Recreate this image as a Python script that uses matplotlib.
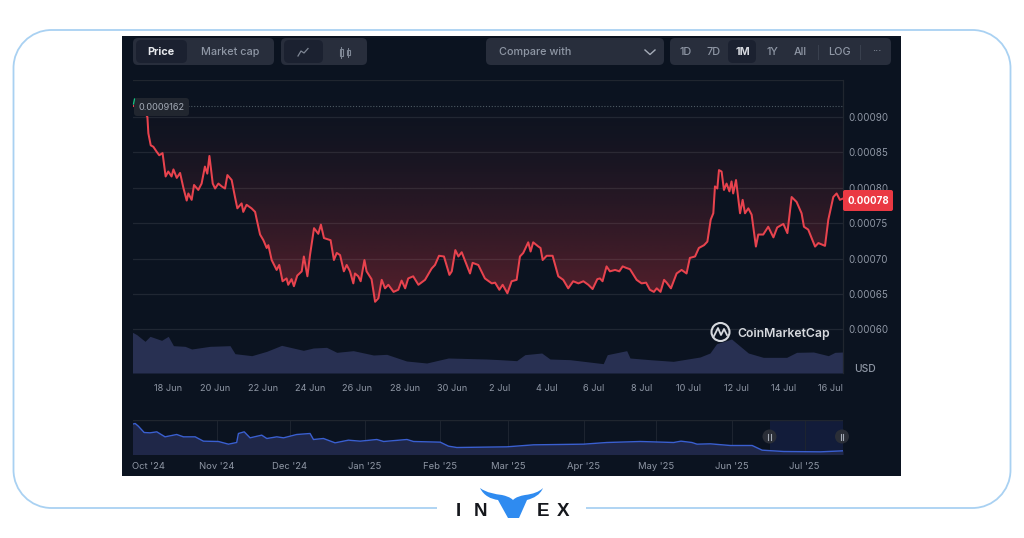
import numpy as np
import matplotlib
matplotlib.use("Agg")
import matplotlib.pyplot as plt
from matplotlib.patches import FancyBboxPatch, PathPatch, Rectangle, Circle
from matplotlib.path import Path
from matplotlib.transforms import ScaledTranslation

plt.rcParams['font.family'] = ['Inter', 'DejaVu Sans']

# ---------- data ----------
# days since 16 Jun 2025 12:00, price in 1e-5 USD
price_days = [0,.18,.46,.63,.67,.77,.88,1.02,1.13,1.27,1.40,1.51,1.65,1.73,1.87,2.01,2.15,2.29,2.36,2.50,2.60,2.78,2.92,3.06,3.16,3.25,3.39,3.49,3.63,3.77,3.91,4.01,4.19,4.33,4.43,4.61,4.68,4.82,5.03,5.18,
 5.25,5.39,5.53,5.67,5.74,5.88,6.09,6.20,6.34,6.51,6.58,6.72,6.82,6.96,7.15,7.24,7.39,7.50,7.67,7.85,7.96,8.09,8.37,8.51,8.63,8.77,8.93,9.05,9.19,9.33,9.40,9.54,9.64,9.80,9.89,10.10,10.25,10.39,10.53,10.67,10.81,11.03,11.23,11.37,11.52,11.65,11.86,12.08,12.36,12.64,12.78,12.95,13.16,13.39,13.49,13.64,13.77,13.91,14.26,14.37,14.61,14.89,15.18,15.32,15.50,15.64,15.84,16.02,16.23,16.37,
 16.51,16.72,16.82,16.93,17.15,17.24,17.33,17.50,17.75,17.99,18.20,18.41,18.62,18.84,19.05,19.26,19.44,19.64,19.75,19.86,20.03,20.17,20.39,20.57,20.71,20.85,21.02,21.30,21.51,21.70,21.86,22.03,22.15,22.31,22.46,22.57,22.75,22.99,23.20,23.41,23.55,23.77,23.93,24.15,24.29,24.40,24.43,24.54,24.61,24.71,24.78,24.89,24.99,25.10,25.22,25.31,25.38,25.50,25.60,25.67,25.78,25.88,26.02,26.16,26.34,26.44,26.65,26.86,27.08,27.24,27.50,27.67,27.85,28.06,28.27,28.37,28.55,28.84,28.98,29.26,29.40,29.61,29.75,29.89,30.03]
price_e5 = [91.62,91.4,91.0,90.0,87.7,86.0,85.8,85.1,84.6,84.9,81.6,82.3,81.6,82.6,81.4,82.1,80.0,78.2,79.2,78.3,80.4,79.7,80.6,83.0,82.0,84.5,80.6,79.9,80.6,80.2,79.9,81.8,81.1,78.7,77.1,77.8,76.6,77.6,77.1,76.6,
 75.5,73.4,72.6,71.5,71.9,69.8,68.4,69.1,66.8,67.2,66.3,67.1,66.1,67.6,68.2,70.3,67.5,70.5,74.3,73.5,74.8,72.9,72.6,69.8,70.8,70.5,68.2,69.1,68.2,66.5,67.9,67.5,66.8,69.8,68.2,67.1,63.9,64.4,67.0,65.8,66.3,65.3,65.6,66.9,65.8,67.2,67.5,66.3,67.0,68.6,69.1,70.4,70.3,67.7,68.2,71.2,70.3,70.9,67.9,69.4,69.1,67.2,66.5,66.6,65.6,66.3,65.1,66.8,67.0,70.3,
 70.8,72.3,71.0,72.3,71.7,71.5,69.8,70.4,70.4,67.5,67.0,65.8,66.8,66.5,66.8,66.3,65.7,67.1,67.2,66.8,68.9,68.2,68.4,68.2,68.9,68.7,68.5,67.0,66.5,66.6,65.6,65.3,65.8,65.3,67.0,66.6,65.8,67.9,68.4,67.9,70.1,70.3,71.5,71.9,72.4,74.8,75.5,76.4,80.2,79.9,82.5,82.3,79.7,80.6,79.5,80.9,79.2,81.1,78.3,76.4,78.3,76.4,77.1,76.2,71.7,73.4,73.4,74.5,73.0,74.4,74.9,73.6,78.7,78.0,76.4,74.5,74.1,71.7,72.2,71.8,75.5,78.7,79.2,78.3,78.5]
volume_days = [0,.18,.53,.74,1.23,1.51,1.73,2.22,2.50,3.27,4.12,4.33,5.04,5.67,6.30,7.22,7.64,8.20,8.63,9.33,10.18,10.74,11.58,12.43,13.34,14.96,15.53,16.23,16.58,17.29,17.64,18.48,19.89,20.06,20.88,21.02,21.86,22.85,23.98,24.40,24.68,25.31,26.02,26.65,27.64,28.06,28.77,29.40,29.68,30.03]
volume_rel = [122,115,95,110,98,110,82,80,72,80,82,58,52,65,83,68,75,77,62,67,54,56,36,30,45,42,40,37,55,60,42,40,28,55,67,45,40,35,48,60,88,102,60,47,47,62,63,52,62,63]
nav_days = [-3.7,-2.6,-1.3,1.1,3.5,6.3,9.7,14.5,17.3,22.1,25.5,31.7,35.8,39.2,39.9,42.3,44.7,49.5,51.6,55.7,58.5,63.9,69.4,70.8,74.9,79.7,85.2,90.0,96.9,99.7,109.3,112.0,123.0,126.4,129.8,150.4,161.4,182.0,191.6,205.4,219.1,222.1,226.6,228.7,234.2,242.4,251.4,255.5,264.4,279.5,288.8]
nav_rel = [91,93,85,66,65,68,53,60,53,53,40,39,31,36,63,68,50,58,48,53,50,60,63,45,48,35,43,40,45,39,45,39,37,25,21,23,29,31,36,39,36,40,36,31,32,27,27,13,9,8,11]
price_ticks = [90, 85, 80, 75, 70, 65, 60]
price_tick_labels = ['0.00090','0.00085','0.00080','0.00075','0.00070','0.00065','0.00060']
date_ticks = [1.5+2*i for i in range(15)]
date_labels = ['18 Jun','20 Jun','22 Jun','24 Jun','26 Jun','28 Jun','30 Jun','2 Jul','4 Jul','6 Jul','8 Jul','10 Jul','12 Jul','14 Jul','16 Jul']
month_ticks = [0,31,61,92,123,151,182,212,243,273]
month_labels = ["Oct '24","Nov '24","Dec '24","Jan '25","Feb '25","Mar '25","Apr '25","May '25","Jun '25","Jul '25"]
high_price = 91.62
last_price_label = '0.00078'
buttons = ['Price','Market cap','Compare with','1D','7D','1M','1Y','All','LOG']

# ---------- layout helpers ----------
W, H = 1024, 538
fig = plt.figure(figsize=(W/100, H/100), dpi=100, facecolor='white')
def axpx(x0, y0, x1, y1, **kw):
    return fig.add_axes([x0/W, 1-y1/H, (x1-x0)/W, (y1-y0)/H], **kw)

PANEL='#0b1320'; GRID='#20262f'; TXT='#8f97a5'; RED='#ea3943'; BTN='#282e3c'; ACT='#1b2130'

bg = axpx(0,0,W,H); bg.set_xlim(0,W); bg.set_ylim(H,0); bg.axis('off'); bg.set_zorder(0)
FRAME='#a9d1f2'
r=38; l,t,rt,b=13.5,30,1010.5,508
k=0.5523*r
verts=[(437,b),(l+r,b),(l+r-k,b),(l,b-r+k),(l,b-r),(l,t+r),(l,t+r-k),(l+r-k,t),(l+r,t),(rt-r,t),(rt-r+k,t),(rt,t+r-k),(rt,t+r),(rt,b-r),(rt,b-r+k),(rt-r+k,b),(rt-r,b),(586,b)]
codes=[Path.MOVETO,Path.LINETO,Path.CURVE4,Path.CURVE4,Path.CURVE4,Path.LINETO,Path.CURVE4,Path.CURVE4,Path.CURVE4,Path.LINETO,Path.CURVE4,Path.CURVE4,Path.CURVE4,Path.LINETO,Path.CURVE4,Path.CURVE4,Path.CURVE4,Path.LINETO]
bg.add_patch(PathPatch(Path(verts,codes),fc='none',ec=FRAME,lw=1.3))
bg.add_patch(Rectangle((122,36),779,440,fc=PANEL,ec='none'))

def btn(x0,y0,x1,y1,fc,rad=5):
    bg.add_patch(FancyBboxPatch((x0,y0),x1-x0,y1-y0,boxstyle=f'round,pad=0,rounding_size={rad}',fc=fc,ec='none'))
btn(133,38,274,65,BTN); btn(136,40,187,63,ACT)
btn(281,38,367,65,BTN); btn(284,40,323,63,ACT)
btn(486,38,664,65,BTN)
btn(670,38,891,65,BTN); btn(728,40,756,63,ACT)
bg.text(161,52,buttons[0],color='#e6e8ec',fontsize=7.8,fontweight='bold',ha='center',va='center')
bg.text(230,52,buttons[1],color=TXT,fontsize=7.8,fontweight='medium',ha='center',va='center')
bg.text(499,52,buttons[2],color=TXT,fontsize=7.8,fontweight='medium',ha='left',va='center')
for x,s,c in [(686,buttons[3],TXT),(714,buttons[4],TXT),(743,buttons[5],'#d5d8de'),(772,buttons[6],TXT),(800,buttons[7],TXT),(839,buttons[8],TXT)]:
    bg.text(x,52,s,color=c,fontsize=7.8,fontweight='bold' if s=='1M' else 'medium',ha='center',va='center')
bg.plot([645,650,655],[50,54.5,50],color='#a5acb8',lw=1.0)
bg.plot([298,301,304,308],[56,51,53,48.5],color='#7f8795',lw=0.9)
for x,y0,y1 in [(341,49,56),(348,50,55)]:
    bg.add_patch(Rectangle((x-1.5,y0),3,y1-y0,fc='none',ec='#7f8795',lw=0.8))
    bg.plot([x,x],[y0-2,y1+2],color='#7f8795',lw=0.7)
for x in (818,860):
    bg.plot([x,x],[45,59],color='#39404e',lw=0.8)
bg.text(877,51,'···',color=TXT,fontsize=7.5,ha='center',va='center')

# ---------- main chart ----------
days=np.array(price_days); price=np.array(price_e5)*1e-5
ax=axpx(132.5,80,843,373); ax.set_zorder(2); ax.patch.set_alpha(0)
top=95.23e-5; bot=53.84e-5
ax.set_xlim(0,30.02); ax.set_ylim(bot,top)
grad=np.zeros((256,2,4)); grad[...,:3]=matplotlib.colors.to_rgb(RED)
grad[...,3]=0.33*np.linspace(0,1,256)[:,None]**1.6
im=ax.imshow(grad,extent=[0,30.02,64.5e-5,top],origin='upper',aspect='auto',zorder=1,interpolation='bilinear')
poly=ax.fill_between(days,price,top,fc='none',ec='none')
im.set_clip_path(poly.get_paths()[0],transform=ax.transData)
ax.set_xlim(0,30.02); ax.set_ylim(bot,top)
for v in price_ticks:
    ax.axhline(v*1e-5,color=(1,1,1,0.085),lw=0.9,zorder=1.5)
ax.axhline(top,color=GRID,lw=1.6,zorder=1.5)
ax.plot(days,price,color='#e8434e',lw=1.45,zorder=3,solid_joinstyle='round')
ax.axhline(high_price*1e-5,color='#4e5a63',lw=0.8,ls=(0,(1,1.6)),zorder=2)
ax.set_xticks(date_ticks); ax.set_xticklabels(date_labels)
ax.yaxis.tick_right()
ax.set_yticks([v*1e-5 for v in price_ticks]); ax.set_yticklabels(price_tick_labels)
ax.tick_params(axis='y',length=0,pad=3.7,labelsize=7,labelcolor=TXT)
ax.tick_params(axis='x',length=0,pad=8.2,labelsize=6.6,labelcolor=TXT)
for s in ax.spines.values(): s.set_visible(False)
ax.spines['right'].set_visible(True); ax.spines['right'].set_color(GRID); ax.spines['right'].set_linewidth(0.9)

# volume
vx=axpx(132.5,80,843,373); vx.set_zorder(1); vx.patch.set_alpha(0)
vx.fill_between(volume_days,volume_rel,0,color='#283052',lw=0)
vx.set_xlim(0,30.02); vx.set_ylim(0,879); vx.axis('off')

# ---------- overlays ----------
fg=axpx(0,0,W,H); fg.set_xlim(0,W); fg.set_ylim(H,0); fg.axis('off'); fg.set_zorder(5); fg.patch.set_alpha(0)
fg.add_patch(FancyBboxPatch((134,98),55,18,boxstyle='round,pad=0,rounding_size=3',fc='#21262f',ec='none'))
fg.text(162,107,'0.0009162',color='#a4abb6',fontsize=6.6,ha='center',va='center')
fg.plot([133.5,134.5],[104,99],color='#16c784',lw=0.9)
fg.add_patch(FancyBboxPatch((843,190),50,21,boxstyle='round,pad=0,rounding_size=2',fc=RED,ec='none'))
fg.text(868,200.5,last_price_label,color='white',fontsize=7,fontweight='bold',ha='center',va='center')
fg.text(865,369.5,'USD',color=TXT,fontsize=7.4,fontweight='medium',ha='center',va='center')
fg.add_patch(Circle((720.5,332),9,fc='none',ec='#d6d9de',lw=1.5))
fg.plot([714,718,721,724,727],[336,328,335,329,335],color='#d6d9de',lw=1.3)
fg.text(737,333.5,'CoinMarketCap',color='#d6d9de',fontsize=8.8,fontweight='semibold',ha='left',va='center')

# ---------- navigator ----------
nx=axpx(132.5,419.5,843,454.5); nx.set_zorder(2); nx.patch.set_alpha(0)
d0,d1=-3.7,288.8
nx.set_xlim(d0,d1); nx.set_ylim(0,105)
nx.axvspan(258.6,d1,color='#121c3a',lw=0,zorder=0)
for m in month_ticks[1:]:
    nx.axvline(m,color='#1d2430',lw=0.8,zorder=1)
nx.axhline(105,color=GRID,lw=1.0,zorder=1)
nx.fill_between(nav_days,nav_rel,0,color='#1f2748',lw=0,zorder=2)
nx.plot(nav_days,nav_rel,color='#3a5fd0',lw=1.0,zorder=3)
nx.set_xticks(month_ticks); nx.set_xticklabels(month_labels)
nx.set_yticks([])
nx.tick_params(axis='x',length=0,pad=5.4,labelsize=6.8,labelcolor=TXT)
for s in nx.spines.values(): s.set_visible(False)
first=nx.get_xticklabels()[0]
first.set_transform(first.get_transform()+ScaledTranslation(7.5/100,0,fig.dpi_scale_trans))
for x in (769.5,842):
    fg.add_patch(Circle((x,436.5),7,fc='#2a2e37',ec='none'))
    for dx in (-1.2,1.2):
        fg.plot([x+dx,x+dx],[433.5,439.5],color='#a4abb6',lw=0.8)

# ---------- logo ----------
lb=dict(color='#15171c',fontsize=13.5,fontweight='bold',ha='center',va='center')
for x,s in [(458,'I'),(480.5,'N'),(543,'E'),(563,'X')]:
    fg.text(x,512,s,family='Liberation Sans',**lb)
BLUE='#2f8bf0'
M,L,C,Z=Path.MOVETO,Path.LINETO,Path.CURVE4,Path.CLOSEPOLY
logo=[(480,488),(487,493),(495,494),(502,495),(506,496),(510,497),(513,500),
      (516,497),(520,496),(525,495),(533,494),(539,492),(543,488),
      (540,495),(534,498),(527,500),
      (519,518),(508,518),(498,500),
      (491,499),(484,496),(480,488),(480,488)]
lc=[M,C,C,C,C,C,C,C,C,C,C,C,C,C,C,C,L,L,L,C,C,C,Z]
fg.add_patch(PathPatch(Path(logo,lc),fc=BLUE,ec='none'))

fig.savefig('out.png',dpi=100,facecolor='white')
